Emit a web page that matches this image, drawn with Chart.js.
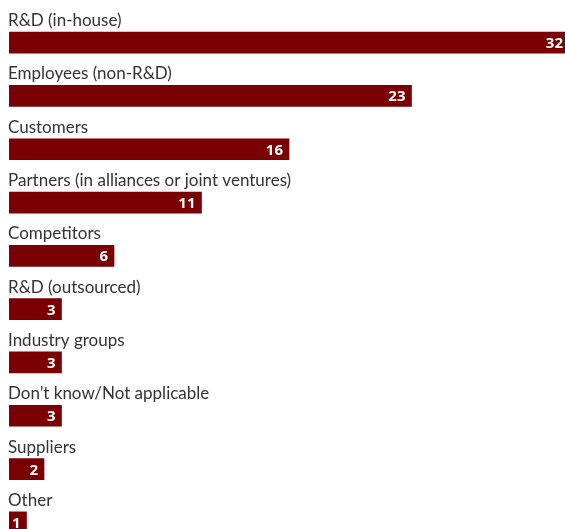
<!DOCTYPE html>
<html>
<head>
<meta charset="utf-8">
<script src="https://cdn.jsdelivr.net/npm/chart.js@4"></script>
<style>
  html, body { margin: 0; padding: 0; background: #fff; overflow: hidden; }
  #wrap { width: 575px; height: 550px; position: relative; }
</style>
</head>
<body>
<div id="wrap"><canvas id="chart"></canvas></div>
<script>
const categories = [
  'R&D (in-house)',
  'Employees (non-R&D)',
  'Customers',
  'Partners (in alliances or joint ventures)',
  'Competitors',
  'R&D (outsourced)',
  'Industry groups',
  'Don\u2019t know/Not applicable',
  'Suppliers',
  'Other'
];
const values = [32, 23, 16, 11, 6, 3, 3, 3, 2, 1];

const BAR_COLOR = '#7a0003';

// draws category names above bars and values inside bar ends
const labelPlugin = {
  id: 'barLabels',
  afterDatasetsDraw(chart) {
    const { ctx } = chart;
    const meta = chart.getDatasetMeta(0);
    ctx.save();
    meta.data.forEach((bar, i) => {
      const top = bar.y - bar.height / 2;
      ctx.font = '17px Lato';
      ctx.fillStyle = '#333';
      ctx.textAlign = 'left';
      ctx.textBaseline = 'alphabetic';
      ctx.fillText(categories[i], 8, top - 6);

      ctx.font = 'bold 15px "Noto Sans"';
      ctx.fillStyle = '#fff';
      ctx.textAlign = 'right';
      ctx.fillText(String(values[i]), bar.x - 6, bar.y + 5.5);
    });
    ctx.restore();
  }
};

new Chart(document.getElementById('chart').getContext('2d'), {
  type: 'bar',
  data: {
    labels: categories,
    datasets: [{ data: values, backgroundColor: BAR_COLOR, barThickness: 21 }]
  },
  options: {
    indexAxis: 'y',
    responsive: true,
    maintainAspectRatio: false,
    animation: false,
    layout: { padding: { left: 9, right: 6, top: 16, bottom: 1 } },
    plugins: { legend: { display: false }, tooltip: { enabled: false } },
    scales: {
      x: { display: false, min: 0, max: 32 },
      y: { display: false }
    }
  },
  plugins: [labelPlugin]
});
</script>
</body>
</html>
